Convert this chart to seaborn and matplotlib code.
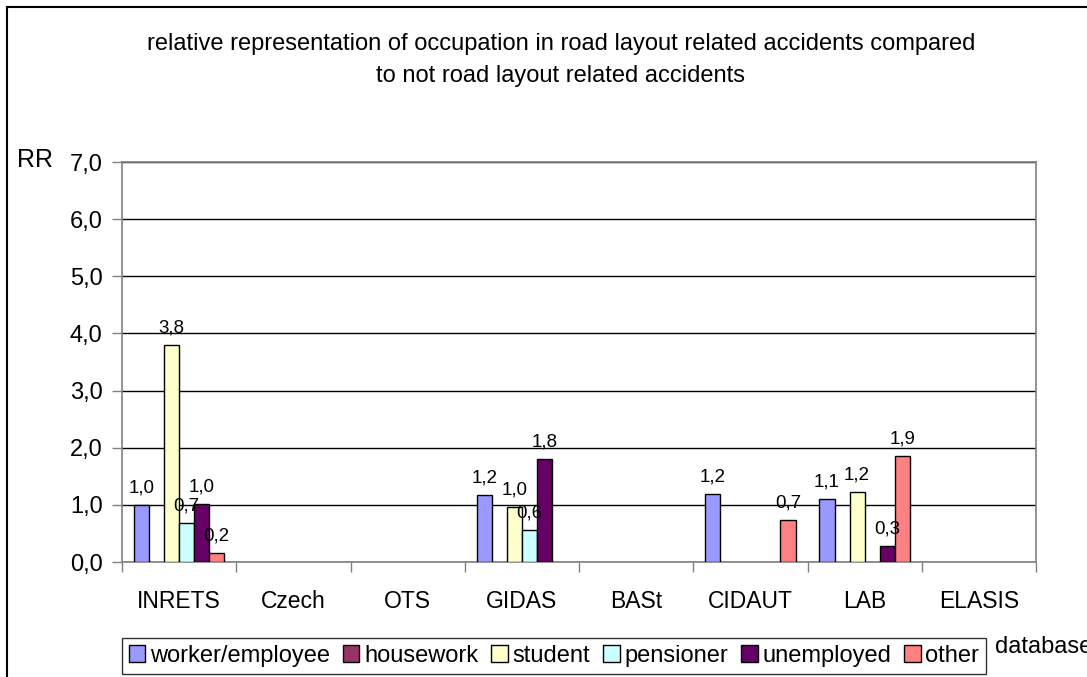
import numpy as np
import pandas as pd
import matplotlib
matplotlib.use("Agg")
import matplotlib.pyplot as plt
from matplotlib.patches import Patch, Rectangle
import seaborn as sns

nan = np.nan

databases = ["INRETS", "Czech", "OTS", "GIDAS", "BASt", "CIDAUT", "LAB", "ELASIS"]
occupations = ["worker/employee", "housework", "student", "pensioner", "unemployed", "other"]

worker = [1.0, nan, nan, 1.17, nan, 1.19, 1.11, nan]
housework = [nan, nan, nan, nan, nan, nan, nan, nan]
student = [3.8, nan, nan, 0.96, nan, nan, 1.22, nan]
pensioner = [0.68, nan, nan, 0.56, nan, nan, nan, nan]
unemployed = [1.02, nan, nan, 1.8, nan, nan, 0.28, nan]
other = [0.16, nan, nan, nan, nan, 0.73, 1.86, nan]

colors = ["#9999FF", "#993366", "#FFFFCC", "#CCFFFF", "#660066", "#FF8080"]

series = [worker, housework, student, pensioner, unemployed, other]
rows = []
for occ, vals in zip(occupations, series):
    for db, v in zip(databases, vals):
        rows.append({"database": db, "occupation": occ, "RR": v})
df = pd.DataFrame(rows).dropna()

sns.set_style("white")
plt.rcParams["font.family"] = ["Liberation Sans", "DejaVu Sans"]
plt.rcParams["text.color"] = "black"
plt.rcParams["xtick.labelcolor"] = "black"
plt.rcParams["ytick.labelcolor"] = "black"

fig = plt.figure(figsize=(10.87, 6.77), dpi=100)
ax = fig.add_axes([122 / 1087, 1 - 562 / 677, (1036 - 122) / 1087, 400 / 677])

sns.barplot(data=df, x="database", y="RR", hue="occupation",
            order=databases, hue_order=occupations,
            palette=dict(zip(occupations, colors)),
            width=0.79, edgecolor="black", linewidth=1.0,
            saturation=1, legend=False, ax=ax, zorder=3)

for cont in ax.containers:
    ax.bar_label(cont, fmt=lambda v: f"{v:.1f}".replace(".", ","),
                 padding=6, fontsize=13.5, color="black")

ax.set_ylim(0, 7)
ax.set_xlim(-0.5, len(databases) - 0.5)
yt = np.arange(0, 8)
ax.set_yticks(yt)
ax.set_yticklabels([f"{v:.1f}".replace(".", ",") for v in yt], fontsize=17)
ax.yaxis.grid(True, color="black", linewidth=1.0)
ax.set_axisbelow(True)

ax.set_xticks(range(len(databases)))
ax.set_xticklabels(databases, fontsize=16.5)
ax.set_xticks(np.arange(-0.5, len(databases)), minor=True)
ax.tick_params(axis="x", which="major", length=0, pad=20, labelcolor="black")
ax.tick_params(axis="x", which="minor", length=7, width=1, color="#808080",
               direction="out", bottom=True)
ax.tick_params(axis="y", length=7, width=1, color="#808080", direction="out",
               left=True, pad=7, labelcolor="black")
ax.set_xlabel("")
ax.set_ylabel("")
for s in ax.spines.values():
    s.set_visible(True)
    s.set_color("#808080")
    s.set_linewidth(1.2)

fig.text(561 / 1087, 1 - 44 / 677,
         "relative representation of occupation in road layout related accidents compared",
         ha="center", va="center", fontsize=17, color="black")
fig.text(561 / 1087, 1 - 76 / 677, "to not road layout related accidents",
         ha="center", va="center", fontsize=17, color="black")
fig.text(35 / 1087, 1 - 160 / 677, "RR", ha="center", va="center", fontsize=18,
         color="black")
fig.text(995 / 1087, 1 - 647 / 677, "database", ha="left", va="center", fontsize=17,
         color="black")

handles = [Patch(facecolor=c, edgecolor="black", linewidth=1.0) for c in colors]
leg = fig.legend(handles, occupations, loc="center",
                 bbox_to_anchor=(554 / 1087, 1 - 656 / 677),
                 ncol=6, fontsize=17, frameon=True, fancybox=False,
                 handlelength=0.7, handleheight=0.7, handletextpad=0.2,
                 columnspacing=0.55, borderpad=0.3, borderaxespad=0,
                 labelcolor="black")
leg.get_frame().set_edgecolor("black")
leg.get_frame().set_linewidth(1.0)

fig.patches.append(Rectangle((7 / 1087, -0.05), 1.1, 1.05 - 7 / 677,
                             transform=fig.transFigure, fill=False,
                             edgecolor="black", linewidth=1.5))

fig.savefig("out.png", dpi=100)
